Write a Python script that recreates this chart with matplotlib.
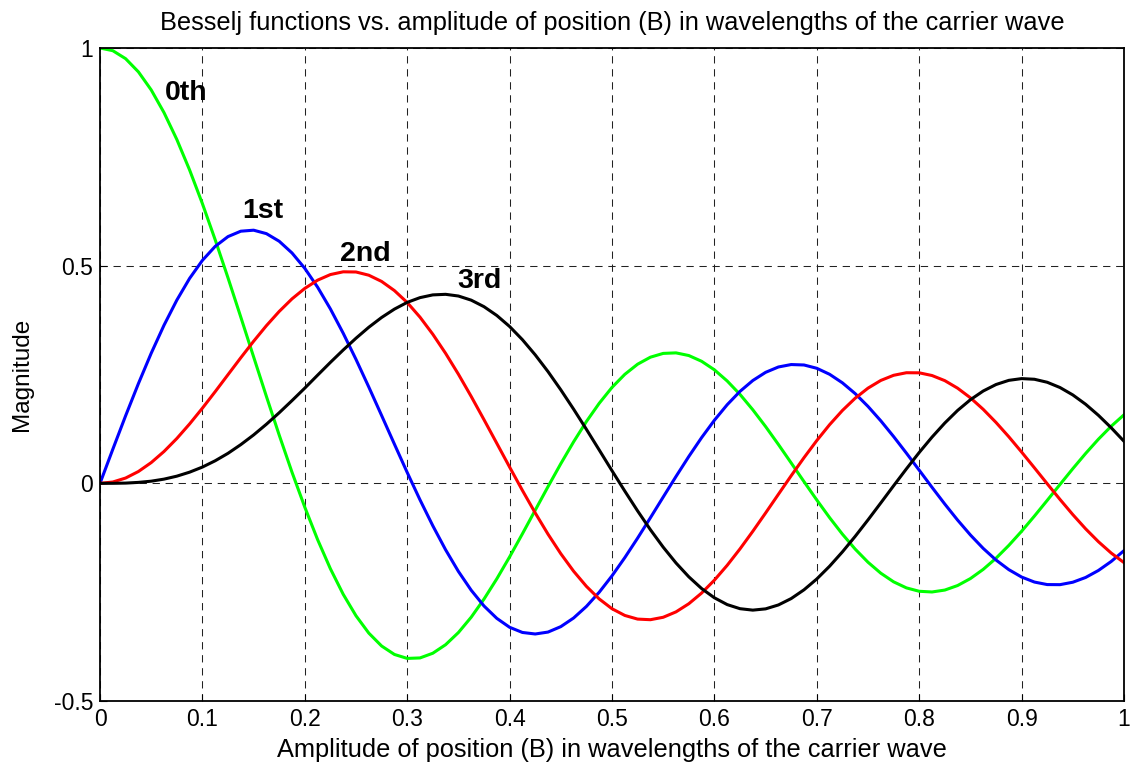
import numpy as np
import matplotlib.pyplot as plt

# amplitude of position B (wavelengths of the carrier wave)
b = np.linspace(0, 1, 81)

# Bessel function orders 0..3, sampled at each B above
j0 = [1.0000, 0.9938, 0.9755, 0.9452, 0.9037, 0.8516, 0.7900, 0.7198, 0.6425,
      0.5594, 0.4720, 0.3818, 0.2906, 0.1997, 0.1109, 0.0255, -0.0548, -0.1292,
      -0.1962, -0.2548, -0.3042, -0.3440, -0.3736, -0.3930, -0.4021, -0.4010,
      -0.3902, -0.3706, -0.3427, -0.3074, -0.2658, -0.2193, -0.1689, -0.1159,
      -0.0617, -0.0076, 0.0452, 0.0954, 0.1420, 0.1839, 0.2204, 0.2504, 0.2737,
      0.2898, 0.2985, 0.2997, 0.2936, 0.2804, 0.2608, 0.2351, 0.2043, 0.1690,
      0.1304, 0.0893, 0.0468, 0.0039, -0.0383, -0.0788, -0.1167, -0.1511,
      -0.1812, -0.2064, -0.2262, -0.2401, -0.2479, -0.2495, -0.2451, -0.2347,
      -0.2187, -0.1976, -0.1720, -0.1425, -0.1100, -0.0752, -0.0391, -0.0025,
      0.0337, 0.0686, 0.1014, 0.1312, 0.1575]
j1 = [0.0000, 0.0783, 0.1552, 0.2291, 0.2989, 0.3632, 0.4208, 0.4708, 0.5122,
      0.5444, 0.5668, 0.5792, 0.5815, 0.5736, 0.5561, 0.5292, 0.4938, 0.4506,
      0.4006, 0.3448, 0.2847, 0.2212, 0.1559, 0.0901, 0.0250, -0.0379, -0.0974,
      -0.1526, -0.2023, -0.2455, -0.2817, -0.3101, -0.3306, -0.3425, -0.3460,
      -0.3416, -0.3291, -0.3093, -0.2827, -0.2501, -0.2124, -0.1706, -0.1258,
      -0.0790, -0.0314, 0.0158, 0.0617, 0.1051, 0.1450, 0.1807, 0.2113, 0.2362,
      0.2550, 0.2673, 0.2729, 0.2719, 0.2643, 0.2505, 0.2309, 0.2061, 0.1767,
      0.1436, 0.1075, 0.0694, 0.0302, -0.0091, -0.0476, -0.0844, -0.1186,
      -0.1494, -0.1761, -0.1982, -0.2152, -0.2267, -0.2325, -0.2327, -0.2271,
      -0.2162, -0.2001, -0.1794, -0.1545]
j2 = [0.0000, 0.0031, 0.0122, 0.0272, 0.0477, 0.0732, 0.1030, 0.1365, 0.1727,
      0.2107, 0.2497, 0.2886, 0.3264, 0.3622, 0.3949, 0.4238, 0.4478, 0.4667,
      0.4796, 0.4859, 0.4855, 0.4781, 0.4638, 0.4428, 0.4154, 0.3817, 0.3425,
      0.2986, 0.2507, 0.1996, 0.1462, 0.0919, 0.0374, -0.0162, -0.0679,
      -0.1167, -0.1616, -0.2018, -0.2366, -0.2655, -0.2880, -0.3034, -0.3118,
      -0.3132, -0.3076, -0.2952, -0.2765, -0.2520, -0.2223, -0.1882, -0.1505,
      -0.1101, -0.0680, -0.0251, 0.0176, 0.0590, 0.0984, 0.1348, 0.1674,
      0.1956, 0.2187, 0.2364, 0.2482, 0.2541, 0.2539, 0.2477, 0.2359, 0.2186,
      0.1965, 0.1700, 0.1399, 0.1070, 0.0719, 0.0357, -0.0009, -0.0370,
      -0.0718, -0.1044, -0.1340, -0.1601, -0.1821]
j3 = [0.0000, 0.0001, 0.0006, 0.0022, 0.0050, 0.0097, 0.0165, 0.0257, 0.0374,
      0.0519, 0.0690, 0.0890, 0.1112, 0.1358, 0.1622, 0.1901, 0.2188, 0.2485,
      0.2779, 0.3063, 0.3334, 0.3586, 0.3810, 0.4002, 0.4157, 0.4266, 0.4329,
      0.4342, 0.4303, 0.4208, 0.4058, 0.3856, 0.3603, 0.3300, 0.2952, 0.2567,
      0.2148, 0.1704, 0.1241, 0.0767, 0.0290, -0.0178, -0.0633, -0.1065,
      -0.1466, -0.1829, -0.2147, -0.2416, -0.2629, -0.2785, -0.2879, -0.2912,
      -0.2883, -0.2793, -0.2646, -0.2445, -0.2196, -0.1903, -0.1574, -0.1217,
      -0.0839, -0.0449, -0.0055, 0.0333, 0.0709, 0.1062, 0.1386, 0.1675,
      0.1921, 0.2121, 0.2270, 0.2366, 0.2406, 0.2391, 0.2322, 0.2201, 0.2031,
      0.1817, 0.1563, 0.1277, 0.0966]

series = [(j0, "#00ff00"), (j1, "#0000ff"), (j2, "#ff0000"), (j3, "#000000")]
labels = [("0th", 0.063, 0.88), ("1st", 0.139, 0.61),
          ("2nd", 0.234, 0.511), ("3rd", 0.349, 0.449)]

plt.rcParams["font.family"] = ["Liberation Sans", "DejaVu Sans"]

fig = plt.figure(figsize=(11.3, 7.68), dpi=100)
ax = fig.add_axes([0.0885, 0.0872, 0.9062, 0.8503])

for vals, col in series:
    ax.plot(b, vals, color=col, linewidth=2.2, solid_joinstyle="round")

for txt, x, y in labels:
    ax.text(x, y, txt, fontsize=20.5, fontweight="bold")

ax.set_xlim(0, 1)
ax.set_ylim(-0.5, 1)
ax.set_xticks(np.arange(0, 1.01, 0.1))
ax.set_xticklabels(["0", "0.1", "0.2", "0.3", "0.4", "0.5", "0.6", "0.7",
                    "0.8", "0.9", "1"])
ax.set_yticks([-0.5, 0, 0.5, 1])
ax.set_yticklabels(["-0.5", "0", "0.5", "1"])
ax.tick_params(direction="in", length=5, width=0.8, labelsize=16.5, pad=5)
ax.grid(True, color="#222222", linestyle=(0, (7, 5.5)), linewidth=0.75)
for sp in ax.spines.values():
    sp.set_linewidth(1.3)

ax.set_title("Besselj functions vs. amplitude of position (B) in wavelengths of the carrier wave",
             fontsize=18.3, pad=13)
ax.set_xlabel("Amplitude of position (B) in wavelengths of the carrier wave",
              fontsize=18.3, labelpad=5)
ax.set_ylabel("Magnitude", fontsize=17.5, labelpad=15)

fig.savefig("out.png", dpi=100)
